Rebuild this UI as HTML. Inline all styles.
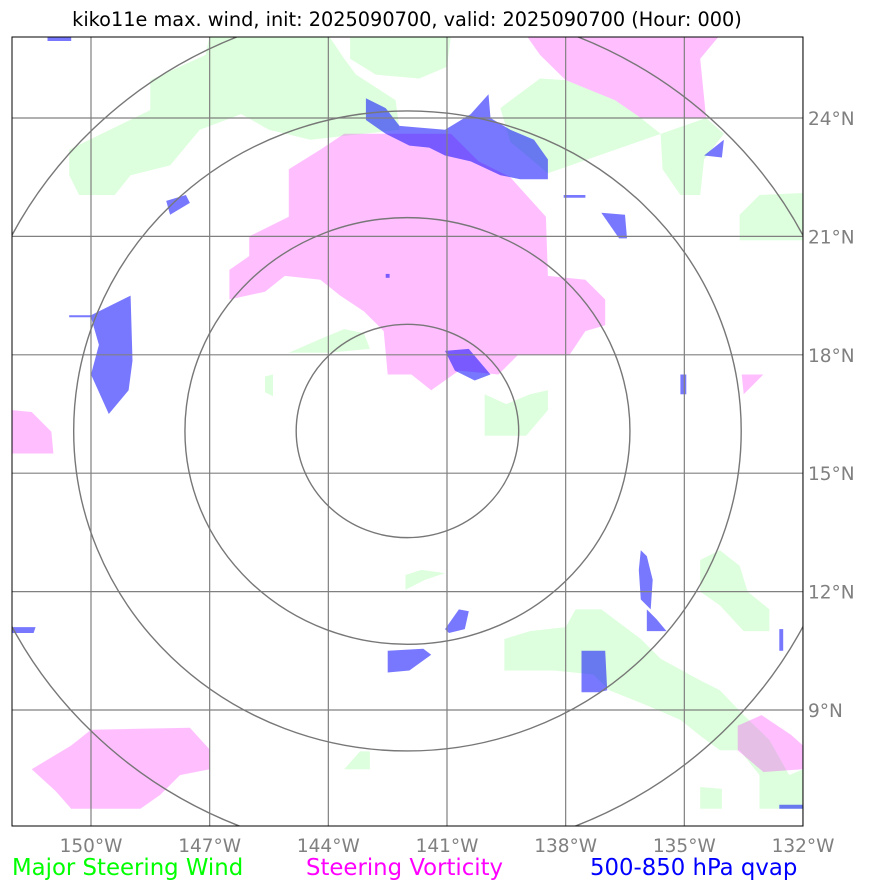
<!DOCTYPE html>
<html><head><meta charset="utf-8">
<style>
body{margin:0;background:#fff;width:873px;height:891px;overflow:hidden;font-family:"Liberation Sans","DejaVu Sans",sans-serif;}
svg text{font-family:"DejaVu Sans","Liberation Sans",sans-serif;}
</style></head>
<body>
<svg id="chart" width="873" height="891">
<text x="407" y="26" font-size="19.3" text-anchor="middle" fill="#000">kiko11e max. wind, init: 2025090700, valid: 2025090700 (Hour: 000)</text>
<defs><clipPath id="pc"><rect x="12" y="37" width="791" height="789"/></clipPath></defs>
<g id="fills" clip-path="url(#pc)"></g>
<g id="grid" clip-path="url(#pc)"></g>
<g id="rings" clip-path="url(#pc)"></g>
<rect x="12" y="37" width="791" height="789" fill="none" stroke="#000" stroke-width="1"/>
<g id="ticks"></g>
<text x="12" y="875" font-size="22.8" fill="#00ff00">Major Steering Wind</text>
<text x="306" y="875" font-size="22.8" fill="#ff00ff">Steering Vorticity</text>
<text x="590" y="875" font-size="22.8" fill="#0000ff">500-850 hPa qvap</text>
</svg>
<script>
const lonTicks=[150,147,144,141,138,135,132];
const latTicks=[24,21,18,15,12,9];
const ringRadiiKm=[300,600,900,1200];
const stormCenter=[142.0,16.07];
const greenPolys=[
[[150.55,23.2],[148.5,24.2],[148.5,24.96],[147.1,25.6],[147.0,26.1],[144.0,26.1],[143.6,25.5],[143.3,25.1],[142.3,24.45],[142.2,23.7],[144.45,23.45],[145.5,23.7],[146.2,24.1],[147.25,23.7],[148.0,22.8],[149.0,22.55],[149.4,22.05],[150.3,22.05],[150.55,22.55]],
[[143.45,26.1],[140.9,26.1],[141.0,25.3],[141.7,25.0],[142.8,25.1],[143.45,25.5]],
[[139.65,24.25],[138.65,25.0],[138.0,24.96],[136.75,24.45],[136.1,24.0],[135.6,23.6],[135.55,22.7],[135.1,22.05],[134.6,22.05],[134.5,22.95],[134.0,23.6],[134.45,24.0],[138.45,22.6],[139.4,23.4]],
[[133.6,21.55],[133.1,22.05],[132.0,22.1],[132.0,20.9],[133.6,20.9]],
[[145.0,18.05],[144.2,18.4],[143.6,18.65],[143.1,18.55],[142.95,18.15],[144.0,18.05]],
[[140.05,17.0],[139.5,16.75],[138.9,17.0],[138.45,17.1],[138.45,16.6],[139.0,15.95],[140.05,15.95]],
[[139.55,10.8],[138.9,11.0],[138.0,11.1],[137.75,11.55],[137.1,11.55],[136.1,10.8],[135.6,10.3],[134.6,9.75],[134.1,9.5],[133.5,8.87],[132.85,8.24],[132.35,7.35],[132.0,7.5],[132.0,6.5],[133.1,6.5],[133.1,7.35],[133.6,7.98],[134.1,7.98],[134.6,8.35],[135.1,8.75],[135.9,9.1],[136.9,9.5],[137.3,9.9],[138.3,10.0],[139.55,10.0]],
[[134.6,12.8],[134.1,13.05],[133.6,12.65],[133.4,12.0],[132.85,11.55],[132.85,11.0],[133.5,11.0],[134.1,11.65],[134.6,12.0]],
[[142.05,12.42],[141.65,12.55],[141.05,12.47],[141.55,12.3],[142.05,12.05]],
[[143.6,7.5],[143.2,7.95],[142.95,7.95],[142.95,7.5]],
[[134.6,7.05],[134.05,7.0],[134.05,6.5],[134.6,6.5]],
[[145.6,17.45],[145.4,17.5],[145.4,16.95],[145.6,17.05]]
];
const pinkPolys=[
[[143.6,23.6],[140.9,23.6],[140.2,22.9],[139.4,22.5],[138.5,21.5],[138.45,20.0],[137.5,19.9],[137.0,19.4],[137.0,18.75],[137.5,18.6],[137.9,18.0],[139.2,18.0],[139.7,17.5],[140.7,17.6],[141.4,17.1],[141.9,17.5],[142.5,17.5],[142.6,18.6],[143.1,19.1],[143.7,19.5],[144.2,19.9],[145.1,20.0],[145.6,19.6],[146.5,19.4],[146.5,20.15],[146.0,20.5],[146.0,21.0],[145.0,21.5],[145.0,22.7],[144.2,23.2]],
[[139.0,26.1],[134.1,26.1],[134.6,25.5],[134.45,24.0],[136.1,24.0],[136.75,24.45],[138.0,24.96],[138.65,25.6]],
[[151.5,7.5],[150.5,8.1],[150.0,8.5],[147.5,8.55],[147.0,8.0],[147.0,7.5],[147.75,7.35],[148.25,6.85],[148.75,6.5],[150.5,6.5],[150.9,6.95]],
[[152.0,16.6],[151.5,16.55],[151.0,16.05],[150.95,15.5],[152.0,15.5]],
[[133.55,17.5],[133.0,17.5],[133.5,17.0]],
[[133.65,8.6],[133.05,8.87],[132.3,8.37],[132.0,8.1],[132.0,7.5],[133.0,7.43],[133.65,7.98]]
];
const bluePolys=[
[[143.05,24.5],[142.55,24.25],[142.2,23.8],[141.05,23.7],[140.4,24.1],[139.95,24.6],[139.9,24.0],[139.4,23.7],[138.8,23.45],[138.45,22.95],[138.45,22.45],[139.15,22.45],[139.65,22.55],[140.4,22.9],[141.05,23.05],[141.45,23.25],[141.95,23.3],[142.55,23.6],[143.05,23.95]],
[[150.0,19.0],[149.0,19.5],[148.95,17.85],[149.05,17.1],[149.55,16.5],[150.0,17.5],[149.8,18.25],[150.0,18.95],[150.55,18.95],[150.55,19.0]],
[[141.05,18.1],[140.45,18.15],[139.9,17.5],[140.3,17.35],[140.8,17.6]],
[[148.1,21.9],[147.6,22.05],[147.5,21.85],[148.0,21.55]],
[[137.1,21.6],[136.5,21.55],[136.45,20.95],[136.65,20.95]],
[[134.5,23.05],[134.0,23.45],[134.05,23.0]],
[[136.1,13.05],[135.95,12.9],[135.8,12.3],[135.85,11.55],[136.1,11.8],[136.15,12.55]],
[[135.95,11.55],[135.7,11.3],[135.45,11.0],[135.95,11.0]],
[[137.6,10.5],[137.0,10.5],[136.95,9.5],[137.15,9.45],[137.6,9.45]],
[[141.05,11.05],[140.7,11.55],[140.45,11.5],[140.55,11.05],[140.95,10.95]],
[[142.5,10.5],[141.6,10.55],[141.4,10.4],[141.95,10.0],[142.5,9.95]],
[[132.6,11.05],[132.5,11.05],[132.5,10.5],[132.6,10.5]],
[[135.1,17.5],[134.95,17.5],[134.95,17.0],[135.1,17.0]],
[[151.1,26.1],[150.5,26.1],[150.5,25.95],[151.1,25.95]],
[[152.0,11.1],[151.4,11.1],[151.45,10.95],[152.0,10.95]],
[[132.6,6.6],[132.0,6.6],[132.0,6.5],[132.6,6.5]],
[[138.05,22.05],[137.5,22.05],[137.5,21.98],[138.05,21.98]],
[[142.55,20.05],[142.45,20.05],[142.45,19.95],[142.55,19.95]]
];
const NS="http://www.w3.org/2000/svg";
function xs(lonW){return 91+(150-lonW)*(712/18);}
function ys(lat){return 118+(24-lat)*(592/15);}
function mk(tag,attrs,parent){const e=document.createElementNS(NS,tag);for(const k in attrs)e.setAttribute(k,attrs[k]);parent.appendChild(e);return e;}
const fills=document.getElementById('fills');
function drawLayer(polys,color,op,name){
  polys.forEach(p=>{
    const pts=p.map(q=>xs(q[0]).toFixed(1)+','+ys(q[1]).toFixed(1)).join(' ');
    const el=mk('polygon',{points:pts,fill:color,'fill-opacity':op},fills);
    
    
  });
}
drawLayer(greenPolys,'#90ff90',0.3,'steering-wind-area');
drawLayer(pinkPolys,'#ff00ff',0.25,'vorticity-area');
drawLayer(bluePolys,'#0000ff',0.53,'qvap-area');
const grid=document.getElementById('grid'),ticks=document.getElementById('ticks');
lonTicks.forEach(l=>{
  const g=mk('line',{x1:xs(l),x2:xs(l),y1:37,y2:826,stroke:'#808080','stroke-width':1.2},grid);
  
  
  const t=mk('text',{x:xs(l),y:852,'font-size':18.5,fill:'#808080','text-anchor':'middle'},ticks);
  t.textContent=l+'°W';
  
  
});
latTicks.forEach(l=>{
  const g=mk('line',{x1:12,x2:803,y1:ys(l),y2:ys(l),stroke:'#808080','stroke-width':1.2},grid);
  
  
  const t=mk('text',{x:808,y:ys(l)+7,'font-size':18.5,fill:'#808080'},ticks);
  t.textContent=l+'°N';
  
  
});
const rings=document.getElementById('rings');
const cx=xs(stormCenter[0]),cy=ys(stormCenter[1]);
ringRadiiKm.forEach(r=>{
  const dLat=r/111, dLon=r/(111*Math.cos(stormCenter[1]*Math.PI/180));
  const e=mk('ellipse',{cx:cx,cy:cy,rx:dLon*712/18,ry:dLat*592/15,fill:'none',stroke:'#777777','stroke-width':1.4},rings);
  
  
});
</script>
</body></html>
